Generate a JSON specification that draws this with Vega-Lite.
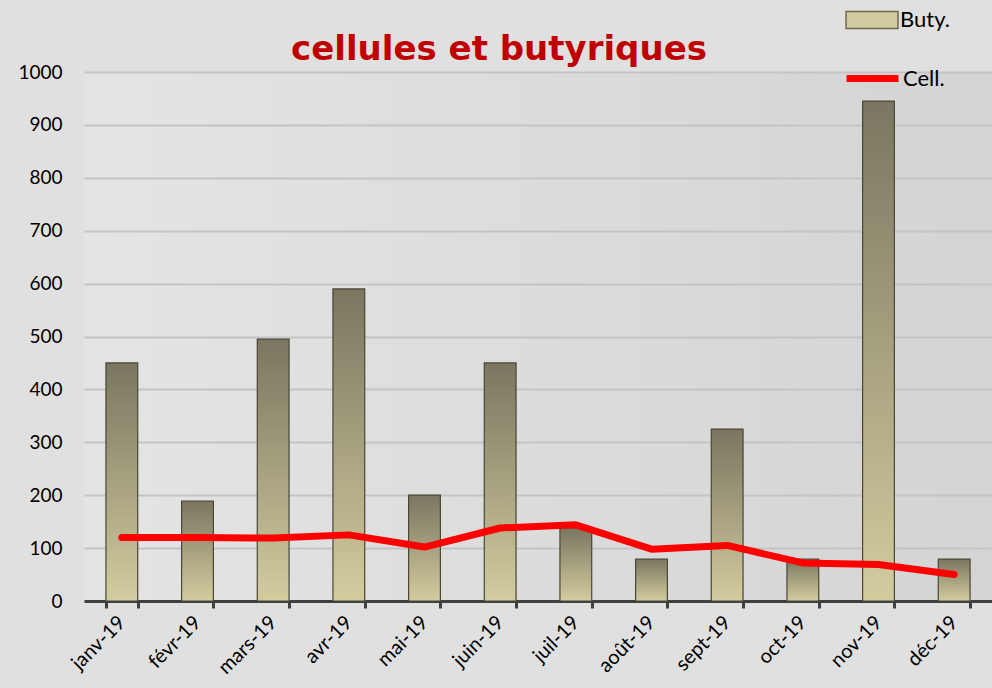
{
  "$schema": "https://vega.github.io/schema/vega-lite/v6.json",
  "width": 908,
  "height": 529,
  "autosize": "none",
  "padding": {"left": 84, "top": 72, "right": 0, "bottom": 87},
  "background": "#e0e0e0",
  "config": {
    "view": {"stroke": null, "fill": {"gradient": "linear", "x1": 0, "y1": 0, "x2": 1, "y2": 0, "stops": [{"offset": 0, "color": "#e4e4e4"}, {"offset": 1, "color": "#d4d4d4"}]}},
    "font": "Lato"
  },
  "title": {
    "text": "cellules et butyriques",
    "font": "DejaVu Sans",
    "fontSize": 34,
    "fontWeight": "bold",
    "color": "#c00000",
    "anchor": "middle",
    "dx": -39,
    "offset": -74
  },
  "data": {
    "values": [
      {"mois": "janv-19", "buty": 450, "cell": 120},
      {"mois": "févr-19", "buty": 189, "cell": 120},
      {"mois": "mars-19", "buty": 495, "cell": 119},
      {"mois": "avr-19", "buty": 590, "cell": 125},
      {"mois": "mai-19", "buty": 200, "cell": 102},
      {"mois": "juin-19", "buty": 450, "cell": 138},
      {"mois": "juil-19", "buty": 138, "cell": 144},
      {"mois": "août-19", "buty": 79, "cell": 98},
      {"mois": "sept-19", "buty": 325, "cell": 105},
      {"mois": "oct-19", "buty": 79, "cell": 72},
      {"mois": "nov-19", "buty": 945, "cell": 69},
      {"mois": "déc-19", "buty": 79, "cell": 50}
    ]
  },
  "encoding": {
    "x": {
      "field": "mois",
      "type": "nominal",
      "sort": null,
      "scale": {"paddingInner": 0.58, "paddingOuter": 0.29},
      "axis": {
        "title": null,
        "labelAngle": -45,
        "labelAlign": "right",
        "labelBaseline": "middle",
        "labelFontSize": 20,
        "labelColor": "#000000",
        "labelPadding": 11,
        "domainColor": "#404040",
        "domainWidth": 3,
        "tickColor": "#404040",
        "tickWidth": 3,
        "tickSize": 7,
        "tickBand": "extent",
        "grid": false
      }
    }
  },
  "layer": [
    {
      "mark": {"type": "bar"},
      "encoding": {
        "y": {
          "field": "buty",
          "type": "quantitative",
          "scale": {"domain": [0, 1000], "nice": false},
          "axis": {
            "title": null,
            "values": [0, 100, 200, 300, 400, 500, 600, 700, 800, 900, 1000],
            "format": "d",
            "labelFontSize": 19,
            "labelColor": "#000000",
            "labelPadding": 22,
            "domain": false,
            "ticks": false,
            "gridColor": "#c4c4c4",
            "gridWidth": 2
          }
        },
        "fill": {
          "datum": "Buty.",
          "scale": {"domain": ["Buty."], "range": ["#d2cba2"]},
          "legend": {
            "title": null,
            "orient": "none",
            "legendX": 761,
            "legendY": -79,
            "padding": 0,
            "symbolSize": 2700,
            "symbolType": "M-1,-0.33H1V0.33H-1Z",
            "symbolStrokeColor": "#6e6a52",
            "symbolStrokeWidth": 1.5,
            "symbolOpacity": 1,
            "labelFontSize": 22,
            "labelColor": "#000000",
            "labelOffset": 1
          }
        }
      }
    },
    {
      "mark": {
        "type": "bar",
        "stroke": "#4a4737",
        "strokeWidth": 1.2,
        "fill": {"gradient": "linear", "x1": 0, "y1": 0, "x2": 0, "y2": 1, "stops": [{"offset": 0, "color": "#7a7660"}, {"offset": 1, "color": "#d3cc9f"}]}
      },
      "encoding": {
        "y": {"field": "buty", "type": "quantitative"}
      }
    },
    {
      "mark": {"type": "line", "strokeWidth": 7, "strokeCap": "round", "strokeJoin": "round"},
      "encoding": {
        "y": {"field": "cell", "type": "quantitative"},
        "stroke": {
          "datum": "Cell.",
          "scale": {"domain": ["Cell."], "range": ["#ff0000"]},
          "legend": {
            "title": null,
            "orient": "none",
            "legendX": 759,
            "legendY": -23,
            "padding": 0,
            "symbolSize": 2700,
            "symbolType": "stroke",
            "symbolStrokeWidth": 7,
            "labelFontSize": 22,
            "labelColor": "#000000",
            "labelOffset": 1
          }
        }
      }
    }
  ]
}
